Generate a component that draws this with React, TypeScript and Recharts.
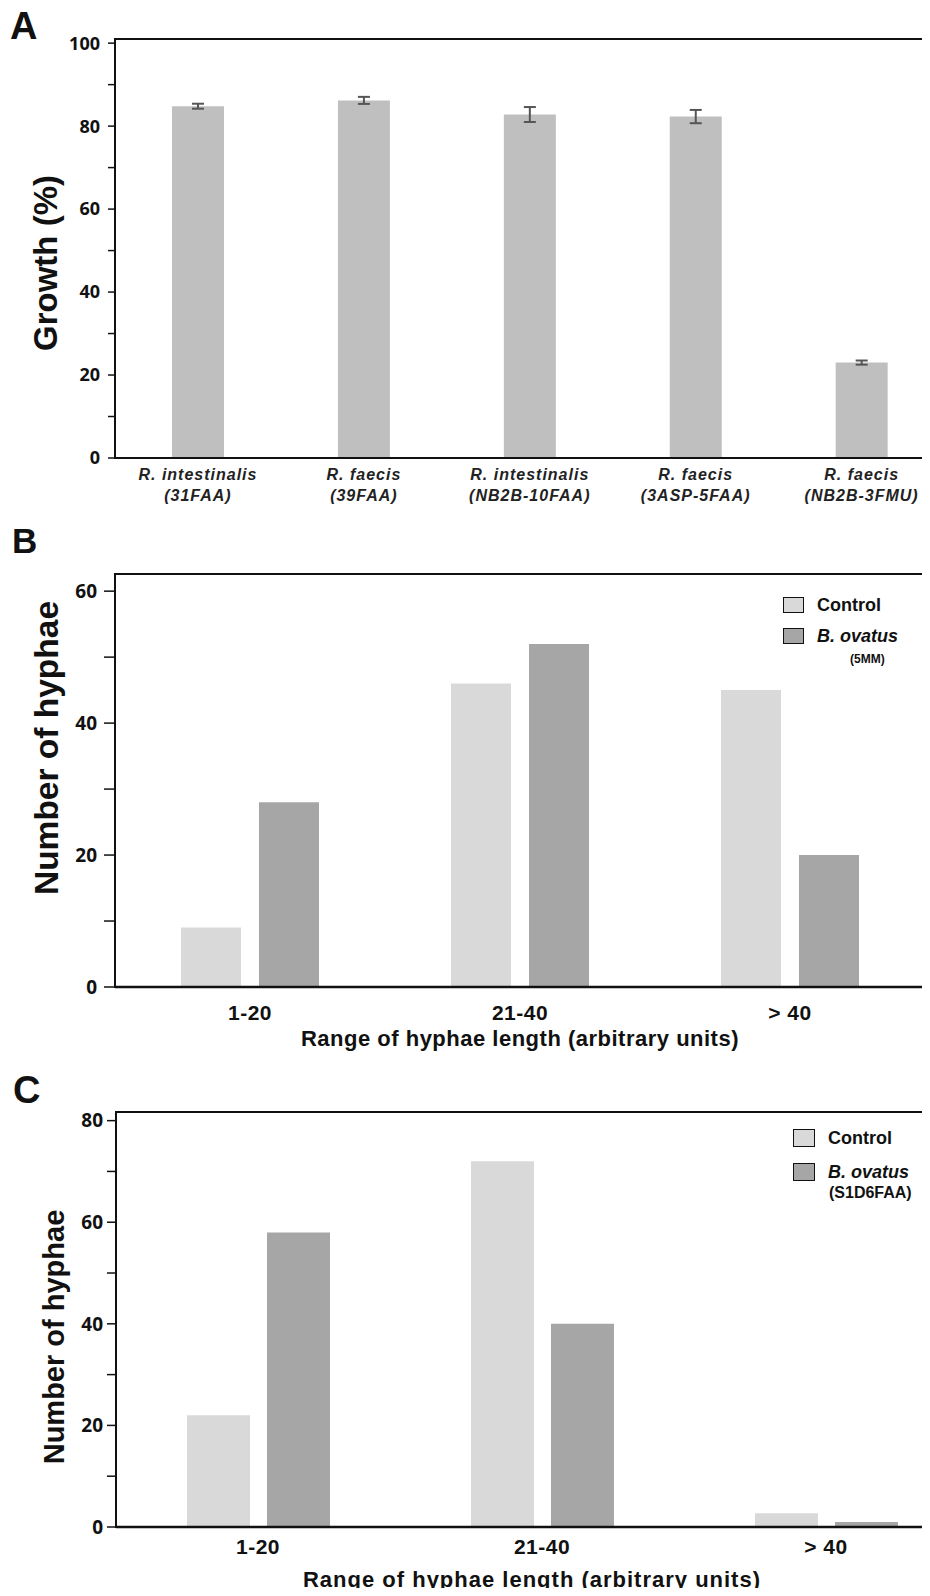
import { BarChart, Bar, XAxis, YAxis, ErrorBar, Legend, ReferenceArea } from 'recharts';

// panel A
const strains = ['R. intestinalis', 'R. faecis', 'R. intestinalis', 'R. faecis', 'R. faecis'];
const strainCodes = ['(31FAA)', '(39FAA)', '(NB2B-10FAA)', '(3ASP-5FAA)', '(NB2B-3FMU)'];
const growth = [84.8, 86.2, 82.8, 82.3, 23.0];
const growthErr = [0.6, 0.85, 1.8, 1.6, 0.5];
const growthTicks = [0, 10, 20, 30, 40, 50, 60, 70, 80, 90, 100];

// panels B and C
const ranges = ['1-20', '21-40', '> 40'];
const controlB = [9, 46, 45];
const ovatusB = [28, 52, 20];
const controlC = [22, 72, 2.7];
const ovatusC = [58, 40, 1];
const hyphaeTicksB = [0, 10, 20, 30, 40, 50, 60];
const hyphaeTicksC = [0, 10, 20, 30, 40, 50, 60, 70, 80];
const seriesOrder = ['control', 'ovatus'];

const dataA = strains.map((s, i) => ({ idx: i, name: s, growth: growth[i], err: growthErr[i] }));
const dataB = ranges.map((r, i) => ({ range: r, control: controlB[i], ovatus: ovatusB[i] }));
const dataC = ranges.map((r, i) => ({ range: r, control: controlC[i], ovatus: ovatusC[i] }));

const ARIAL = '"Liberation Sans", Arial, sans-serif';
const CALI = '"Open Sans", sans-serif';
const AXIS = { stroke: '#111', strokeWidth: 2 };
const every20 = (v: number) => (v % 20 === 0 ? String(v) : '');

const StrainTick = (props: any) => {
  const { x, y, payload } = props;
  const i = payload.value;
  return (
    <text x={x} y={y} textAnchor="middle" fontFamily={ARIAL} fontStyle="italic" fontWeight="bold"
      fontSize={16} letterSpacing={1} fill="#222">
      <tspan x={x} dy={22}>{strains[i]}</tspan>
      <tspan x={x} dy={21}>{strainCodes[i]}</tspan>
    </text>
  );
};

type LegendOpts = {
  boxW: number; boxH: number; row2: number; textLeft: number;
  fontSize: number; code: string; codeSize: number; codeLeft: number; codeTop: number;
};

const makeLegend = (o: LegendOpts) => (props: any) => {
  const payload = props.payload || [];
  const items = seriesOrder.map(k => payload.find((p: any) => p.dataKey === k)).filter(Boolean);
  const line = (txt: string, top: number, left: number, size: number, italic: boolean, key: string) => (
    <div key={key} style={{
      position: 'absolute', left, top: top - size / 2, height: size, lineHeight: `${size}px`,
      fontSize: size, fontWeight: 'bold', fontStyle: italic ? 'italic' : 'normal',
      fontFamily: ARIAL, color: '#111', whiteSpace: 'nowrap'
    }}>{txt}</div>
  );
  return (
    <div style={{ position: 'relative', width: 150, height: 80 }}>
      {items.map((it: any, i: number) => {
        const top = i === 0 ? 0 : o.row2;
        return (
          <div key={it.dataKey}>
            <div style={{
              position: 'absolute', left: 0, top, width: o.boxW, height: o.boxH,
              background: it.color, border: '1.5px solid #111', boxSizing: 'border-box'
            }} />
            {line(it.value, top + o.boxH / 2, o.textLeft, o.fontSize, it.dataKey === 'ovatus', 't' + i)}
          </div>
        );
      })}
      {line(o.code, o.codeTop, o.codeLeft, o.codeSize, false, 'code')}
    </div>
  );
};

const legendB = makeLegend({ boxW: 21, boxH: 16, row2: 31, textLeft: 34, fontSize: 18, code: '(5MM)', codeSize: 12, codeLeft: 67, codeTop: 62 });
const legendC = makeLegend({ boxW: 22, boxH: 18, row2: 34, textLeft: 35, fontSize: 18, code: '(S1D6FAA)', codeSize: 16, codeLeft: 36, codeTop: 64 });

export default function App() {
  return (
    <div style={{ position: 'relative', width: 930, height: 1596, margin: -8, overflow: 'hidden', background: '#fff', fontFamily: ARIAL }}>
      {/* A */}
      <div style={{ position: 'absolute', left: 0, top: 0 }}>
        <BarChart width={930} height={520} data={dataA} margin={{ top: 39, right: 2, bottom: 0, left: 0 }}>
          <XAxis dataKey="idx" type="number" domain={[-0.5, 4.4]} allowDataOverflow ticks={[0, 1, 2, 3, 4]}
            height={62} tick={<StrainTick />} tickLine={false} tickSize={0} tickMargin={0} axisLine={AXIS} />
          <YAxis type="number" domain={[0, 101]} allowDataOverflow ticks={growthTicks} interval={0}
            tickFormatter={every20} width={115} tickSize={7} tickMargin={8}
            tickLine={{ stroke: '#111', strokeWidth: 1.5 }} axisLine={AXIS}
            tick={{ fontFamily: CALI, fontWeight: 'bold', fontSize: 18, fill: '#111' }} />
          <ReferenceArea y1={0} y2={101} fill="none" stroke="#111" strokeWidth={2} ifOverflow="visible" />
          <Bar dataKey="growth" fill="#bfbfbf" barSize={52} isAnimationActive={false}>
            <ErrorBar dataKey="err" width={6} strokeWidth={2} stroke="#555" direction="y" />
          </Bar>
        </BarChart>
      </div>

      {/* B */}
      <div style={{ position: 'absolute', left: 0, top: 520 }}>
        <BarChart width={930} height={510} data={dataB} margin={{ top: 54, right: 5, bottom: 0, left: 0 }}
          barGap={18}>
          <XAxis dataKey="range" height={43} tickLine={false} tickSize={0} tickMargin={18}
            axisLine={{ stroke: '#111', strokeWidth: 2.5 }}
            tick={{ fontFamily: ARIAL, fontWeight: 'bold', fontSize: 21, fill: '#111', letterSpacing: 0.5 }} />
          <YAxis type="number" domain={[0, 62.6]} allowDataOverflow ticks={hyphaeTicksB} interval={0}
            tickFormatter={every20} width={115} tickSize={11} tickMargin={7}
            tickLine={{ stroke: '#111', strokeWidth: 1.5 }} axisLine={AXIS}
            tick={{ fontFamily: CALI, fontWeight: 'bold', fontSize: 19, fill: '#111' }} />
          <ReferenceArea y1={0} y2={62.6} fill="none" stroke="#111" strokeWidth={2} ifOverflow="visible" />
          <Legend layout="vertical" align="center" verticalAlign="middle" content={legendB}
            wrapperStyle={{ left: 783, top: 77, width: 150, height: 80 }} />
          <Bar dataKey="control" name="Control" fill="#d9d9d9" barSize={60} isAnimationActive={false} />
          <Bar dataKey="ovatus" name="B. ovatus" fill="#a6a6a6" barSize={60} isAnimationActive={false} />
        </BarChart>
      </div>

      {/* C */}
      <div style={{ position: 'absolute', left: 0, top: 1060 }}>
        <BarChart width={975} height={505} data={dataC} margin={{ top: 52, right: 7, bottom: 0, left: 0 }}
          barGap={17}>
          <XAxis dataKey="range" height={38} tickLine={false} tickSize={0} tickMargin={12}
            axisLine={{ stroke: '#111', strokeWidth: 2.5 }}
            tick={{ fontFamily: ARIAL, fontWeight: 'bold', fontSize: 21, fill: '#111', letterSpacing: 0.5 }} />
          <YAxis type="number" domain={[0, 81.7]} allowDataOverflow ticks={hyphaeTicksC} interval={0}
            tickFormatter={every20} width={116} tickSize={9} tickMargin={4}
            tickLine={{ stroke: '#111', strokeWidth: 1.5 }} axisLine={AXIS}
            tick={{ fontFamily: CALI, fontWeight: 'bold', fontSize: 19, fill: '#111' }} />
          <ReferenceArea y1={0} y2={81.7} fill="none" stroke="#111" strokeWidth={2} ifOverflow="visible" />
          <Legend layout="vertical" align="center" verticalAlign="middle" content={legendC}
            wrapperStyle={{ left: 793, top: 69, width: 150, height: 80 }} />
          <Bar dataKey="control" name="Control" fill="#d9d9d9" barSize={63} isAnimationActive={false} />
          <Bar dataKey="ovatus" name="B. ovatus" fill="#a6a6a6" barSize={63} isAnimationActive={false} />
        </BarChart>
      </div>

      {/* panel letters and axis titles */}
      <svg width={930} height={1596} style={{ position: 'absolute', left: 0, top: 0, pointerEvents: 'none' }}
        fontFamily={ARIAL} fontWeight="bold" fill="#111">
        <text x={10} y={39} fontSize={38}>A</text>
        <text x={12} y={553} fontSize={35}>B</text>
        <text x={13} y={1103} fontSize={38}>C</text>
        <text transform="translate(57,263) rotate(-90)" textAnchor="middle" fontSize={33}>Growth (%)</text>
        <text transform="translate(58,748) rotate(-90)" textAnchor="middle" fontSize={33.5}>Number of hyphae</text>
        <text transform="translate(64,1337) rotate(-90)" textAnchor="middle" fontSize={29}>Number of hyphae</text>
        <text x={520} y={1046} textAnchor="middle" fontSize={22} letterSpacing={0.5}>Range of hyphae length (arbitrary units)</text>
        <text x={532} y={1587} textAnchor="middle" fontSize={22} letterSpacing={1}>Range of hyphae length (arbitrary units)</text>
      </svg>
    </div>
  );
}
